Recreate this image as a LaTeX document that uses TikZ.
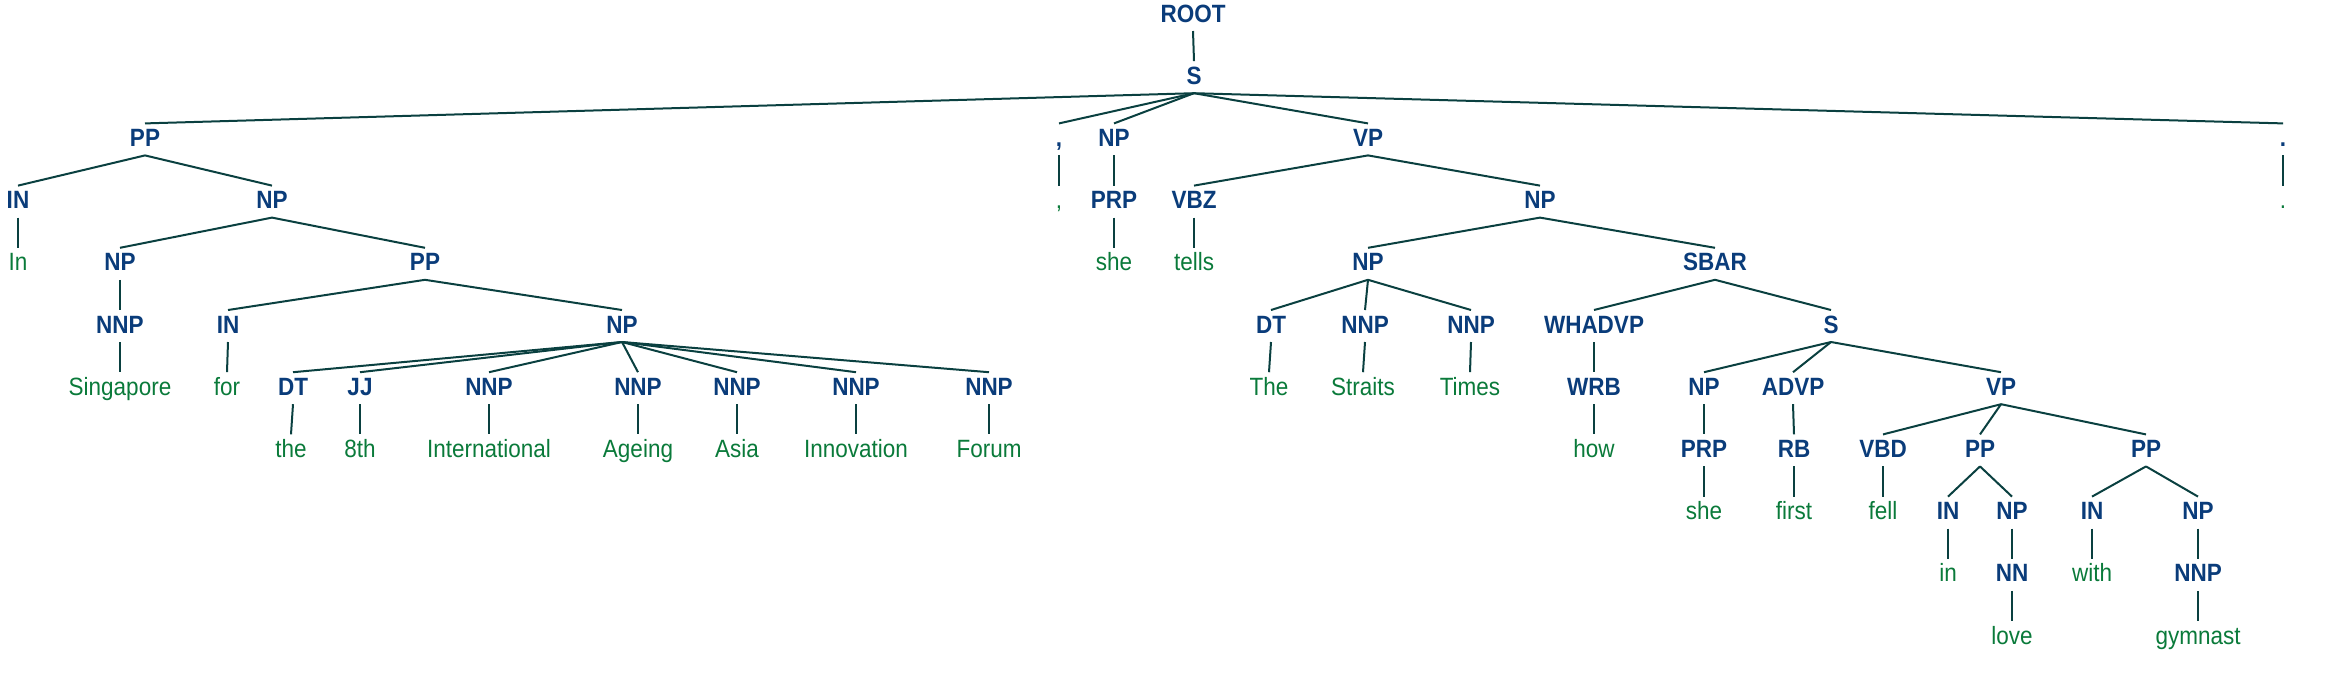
\documentclass[tikz,border=0pt]{standalone}
\usepackage{fontspec}
\setmainfont[FakeStretch=0.9]{Liberation Sans}
\definecolor{tagblue}{RGB}{10,60,122}
\definecolor{wordgreen}{RGB}{10,122,58}
\definecolor{branchcol}{RGB}{10,64,64}
\tikzset{
	tagnode/.style={font=\fontsize{12.5}{14}\selectfont\bfseries, text=tagblue, anchor=base,
		inner sep=0pt, outer ysep=2.5pt, text height=9pt, text depth=2pt},
	wordnode/.style={tagnode, font=\fontsize{12.5}{14}\selectfont, text=wordgreen},
	branch/.style={draw=branchcol, line width=1pt}
}
\begin{document}
\begin{tikzpicture}[x=0.5pt,y=-31.1pt]
	\useasboundingbox (0,-0.354) rectangle (2334,10.74);
	% level 0-2
	\node[tagnode] (root) at (1193,0) {ROOT};
	\node[tagnode] (s1) at (1194,1) {S};
	\node[tagnode] (pp1) at (145,2) {PP};
	\node[tagnode] (comma1) at (1059,2) {,};
	\node[tagnode] (np1) at (1114,2) {NP};
	\node[tagnode] (vp1) at (1368,2) {VP};
	\node[tagnode] (period1) at (2283,2) {.};
	% level 3
	\node[tagnode] (in1) at (18,3) {IN};
	\node[tagnode] (np2) at (272,3) {NP};
	\node[wordnode] (comma) at (1059,3) {,};
	\node[tagnode] (prp1) at (1114,3) {PRP};
	\node[tagnode] (vbz) at (1194,3) {VBZ};
	\node[tagnode] (np3) at (1540,3) {NP};
	\node[wordnode] (period) at (2283,3) {.};
	% level 4
	\node[wordnode] (wIn) at (18,4) {In};
	\node[tagnode] (np4) at (120,4) {NP};
	\node[tagnode] (pp2) at (425,4) {PP};
	\node[wordnode] (wshe1) at (1114,4) {she};
	\node[wordnode] (wtells) at (1194,4) {tells};
	\node[tagnode] (np5) at (1368,4) {NP};
	\node[tagnode] (sbar) at (1715,4) {SBAR};
	% level 5
	\node[tagnode] (nnp1) at (120,5) {NNP};
	\node[tagnode] (in2) at (228,5) {IN};
	\node[tagnode] (np6) at (622,5) {NP};
	\node[tagnode] (dt1) at (1271,5) {DT};
	\node[tagnode] (nnp2) at (1365,5) {NNP};
	\node[tagnode] (nnp3) at (1471,5) {NNP};
	\node[tagnode] (whadvp) at (1594,5) {WHADVP};
	\node[tagnode] (s2) at (1831,5) {S};
	% level 6
	\node[wordnode] (wSingapore) at (120,6) {Singapore};
	\node[wordnode] (wfor) at (227,6) {for};
	\node[tagnode] (dt2) at (293,6) {DT};
	\node[tagnode] (jj) at (360,6) {JJ};
	\node[tagnode] (nnp4) at (489,6) {NNP};
	\node[tagnode] (nnp5) at (638,6) {NNP};
	\node[tagnode] (nnp6) at (737,6) {NNP};
	\node[tagnode] (nnp7) at (856,6) {NNP};
	\node[tagnode] (nnp8) at (989,6) {NNP};
	\node[wordnode] (wThe) at (1269,6) {The};
	\node[wordnode] (wStraits) at (1363,6) {Straits};
	\node[wordnode] (wTimes) at (1470,6) {Times};
	\node[tagnode] (wrb) at (1594,6) {WRB};
	\node[tagnode] (np7) at (1704,6) {NP};
	\node[tagnode] (advp) at (1793,6) {ADVP};
	\node[tagnode] (vp2) at (2001,6) {VP};
	% level 7
	\node[wordnode] (wthe) at (291,7) {the};
	\node[wordnode] (w8th) at (360,7) {8th};
	\node[wordnode] (wInternational) at (489,7) {International};
	\node[wordnode] (wAgeing) at (638,7) {Ageing};
	\node[wordnode] (wAsia) at (737,7) {Asia};
	\node[wordnode] (wInnovation) at (856,7) {Innovation};
	\node[wordnode] (wForum) at (989,7) {Forum};
	\node[wordnode] (whow) at (1594,7) {how};
	\node[tagnode] (prp2) at (1704,7) {PRP};
	\node[tagnode] (rb) at (1794,7) {RB};
	\node[tagnode] (vbd) at (1883,7) {VBD};
	\node[tagnode] (pp3) at (1980,7) {PP};
	\node[tagnode] (pp4) at (2146,7) {PP};
	% level 8
	\node[wordnode] (wshe2) at (1704,8) {she};
	\node[wordnode] (wfirst) at (1794,8) {first};
	\node[wordnode] (wfell) at (1883,8) {fell};
	\node[tagnode] (in3) at (1948,8) {IN};
	\node[tagnode] (np8) at (2012,8) {NP};
	\node[tagnode] (in4) at (2092,8) {IN};
	\node[tagnode] (np9) at (2198,8) {NP};
	% level 9-10
	\node[wordnode] (win) at (1948,9) {in};
	\node[tagnode] (nn) at (2012,9) {NN};
	\node[wordnode] (wwith) at (2092,9) {with};
	\node[tagnode] (nnp9) at (2198,9) {NNP};
	\node[wordnode] (wlove) at (2012,10) {love};
	\node[wordnode] (wgymnast) at (2198,10) {gymnast};
	% branches
	\foreach \a/\b in {root/s1, s1/pp1, s1/comma1, s1/np1, s1/vp1, s1/period1,
		pp1/in1, pp1/np2, comma1/comma, np1/prp1, vp1/vbz, vp1/np3, period1/period,
		in1/wIn, np2/np4, np2/pp2, prp1/wshe1, vbz/wtells, np3/np5, np3/sbar,
		np4/nnp1, pp2/in2, pp2/np6, np5/dt1, np5/nnp2, np5/nnp3, sbar/whadvp, sbar/s2,
		nnp1/wSingapore, in2/wfor, np6/dt2, np6/jj, np6/nnp4, np6/nnp5, np6/nnp6, np6/nnp7, np6/nnp8,
		dt1/wThe, nnp2/wStraits, nnp3/wTimes, whadvp/wrb, s2/np7, s2/advp, s2/vp2,
		dt2/wthe, jj/w8th, nnp4/wInternational, nnp5/wAgeing, nnp6/wAsia, nnp7/wInnovation, nnp8/wForum,
		wrb/whow, np7/prp2, advp/rb, vp2/vbd, vp2/pp3, vp2/pp4,
		prp2/wshe2, rb/wfirst, vbd/wfell, pp3/in3, pp3/np8, pp4/in4, pp4/np9,
		in3/win, np8/nn, in4/wwith, np9/nnp9, nn/wlove, nnp9/wgymnast}
		\draw[branch] (\a.south) -- (\b.north);
\end{tikzpicture}
\end{document}
